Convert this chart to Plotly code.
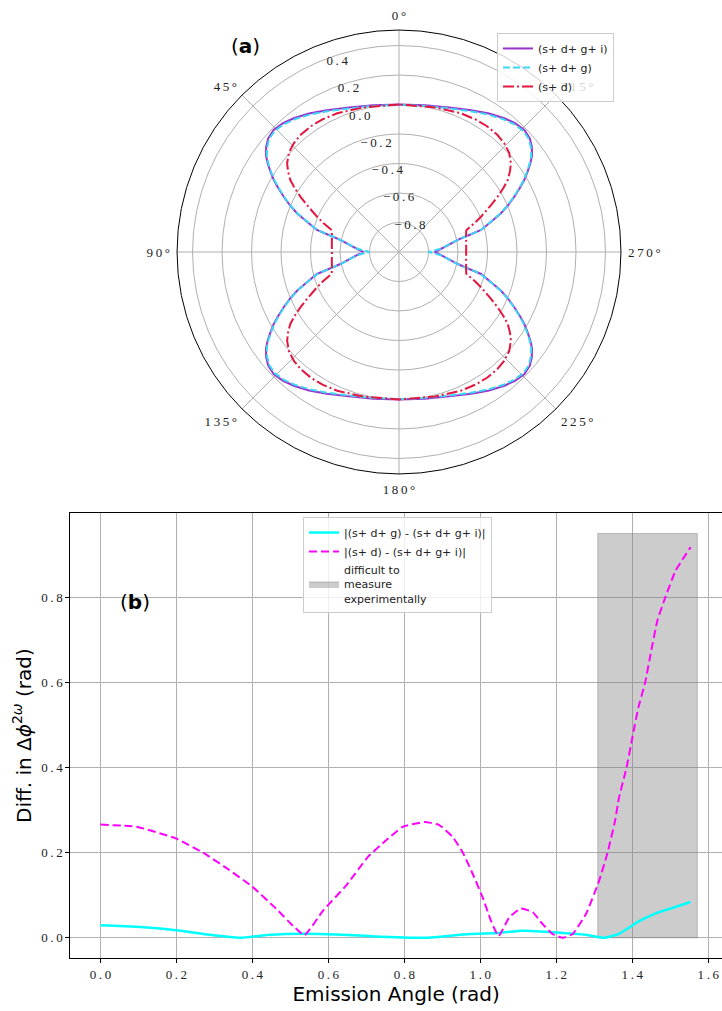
import plotly.graph_objects as go

# ---------------- Panel (a): polar data (first quadrant, mirrored by symmetry) ----------------
theta_q = [0, 10, 20, 27, 33, 38.2, 42, 45.8, 49, 51.6, 54, 56, 58, 60.1, 62, 64.4, 66.8, 69.2, 71.8,
           75, 76.4, 78.4, 82.8, 85.9, 90]
r_sdgi = [0.0, 0.01, 0.04, 0.079, 0.12, 0.154, 0.175, 0.186, 0.175, 0.149, 0.115, 0.074, 0.028, -0.02,
          -0.07, -0.133, -0.195, -0.26, -0.343, -0.424, -0.51, -0.594, -0.677, -0.717, -0.758]
r_sdg = [-0.003, 0.006, 0.034, 0.071, 0.111, 0.145, 0.166, 0.177, 0.167, 0.141, 0.108, 0.068, 0.022,
         -0.026, -0.076, -0.138, -0.2, -0.265, -0.347, -0.428, -0.514, -0.598, -0.68, -0.722, -0.8]
theta_red = [0, 14, 24, 30, 35, 40, 44, 48, 51.6, 54, 56.5, 58.5, 60.7, 63, 66.7, 69, 72, 75, 78, 81, 84, 87, 90]
r_sd = [0.0, 0.01, 0.03, 0.038, 0.041, 0.037, 0.026, 0.005, -0.032, -0.07, -0.116, -0.17, -0.233, -0.3,
        -0.395, -0.45, -0.52, -0.529, -0.535, -0.539, -0.542, -0.544, -0.545]

polar_names = ["(s+ d+ g+ i)", "(s+ d+ g)", "(s+ d)"]
angular_ticks = [0, 45, 90, 135, 180, 225, 270, 315]
radial_ticks = [-0.8, -0.6, -0.4, -0.2, 0.0, 0.2, 0.4]

# ---------------- Panel (b): differences ----------------
x_cyan = [0, 0.095, 0.2, 0.288, 0.367, 0.446, 0.533, 0.621, 0.709, 0.853, 0.971, 1.048, 1.111,
          1.199, 1.278, 1.326, 1.366, 1.418, 1.46, 1.505, 1.553]
y_cyan = [0.0295, 0.026, 0.018, 0.007, 0.0, 0.007, 0.0095, 0.008, 0.004, 0.0, 0.009, 0.0115, 0.0165,
          0.0126, 0.007, 0.0, 0.01, 0.039, 0.057, 0.07, 0.084]
x_mag = [0, 0.095, 0.2, 0.27, 0.33, 0.4, 0.463, 0.507, 0.537, 0.586, 0.647, 0.704, 0.752, 0.796, 0.853,
         0.892, 0.927, 0.954, 0.98, 1.006, 1.028, 1.048, 1.076, 1.107, 1.138, 1.164, 1.19, 1.217, 1.243,
         1.278, 1.3123, 1.3342, 1.3544, 1.3649, 1.3842, 1.4, 1.4158, 1.4333, 1.4482, 1.4658, 1.486,
         1.514, 1.5535]
y_mag = [0.266, 0.261, 0.233, 0.2, 0.165, 0.12, 0.068, 0.028, 0.006, 0.064, 0.123, 0.19, 0.229, 0.261,
         0.272, 0.265, 0.237, 0.2, 0.15, 0.095, 0.04, 0.004, 0.048, 0.069, 0.06, 0.032, 0.009, 0.0,
         0.009, 0.056, 0.1333, 0.198, 0.2745, 0.3294, 0.398, 0.47, 0.541, 0.598, 0.667, 0.745, 0.798,
         0.863, 0.918]
rect_x = [1.309, 1.571]
rect_y = [0.0, 0.95]
diff_names = ["|(s+ d+ g) - (s+ d+ g+ i)|", "|(s+ d) - (s+ d+ g+ i)|", "difficult to<br>measure<br>experimentally"]
x_ticks = [0.0, 0.2, 0.4, 0.6, 0.8, 1.0, 1.2, 1.4, 1.6]
y_ticks = [0.0, 0.2, 0.4, 0.6, 0.8]


def mirror(theta, r):
    """Full 360 curve from first quadrant values using the picture's symmetry."""
    t = list(theta) + [180 - v for v in reversed(theta)] + [180 + v for v in theta] + [360 - v for v in reversed(theta)]
    rr = list(r) + list(reversed(r)) + list(r) + list(reversed(r))
    return t, rr


def spaced(s):
    return "\u2009".join(list(s))


SERIF = "Liberation Serif"
SANS = "DejaVu Sans"

fig = go.Figure()

for (th, rr, name, color, dash) in [
    (theta_q, r_sdgi, polar_names[0], "#9932CC", "solid"),
    (theta_q, r_sdg, polar_names[1], "#3ED6F7", "7px,3px"),
    (theta_red, r_sd, polar_names[2], "#E3173F", "11px,3px,2px,3px"),
]:
    t, r = mirror(th, rr)
    fig.add_trace(go.Scatterpolar(r=r, theta=t, mode="lines", name=name,
                                  line=dict(color=color, width=2, dash=dash),
                                  subplot="polar", legend="legend"))

fig.add_trace(go.Scatter(x=[rect_x[0], rect_x[1], rect_x[1], rect_x[0], rect_x[0]],
                         y=[rect_y[0], rect_y[0], rect_y[1], rect_y[1], rect_y[0]],
                         mode="lines", fill="toself", fillcolor="rgba(128,128,128,0.4)",
                         line=dict(color="rgba(128,128,128,0.45)", width=1),
                         name=diff_names[2], legend="legend2", legendrank=3,
                         xaxis="x", yaxis="y", hoverinfo="skip"))
fig.add_trace(go.Scatter(x=x_cyan, y=y_cyan, mode="lines", name=diff_names[0],
                         line=dict(color="#00FFFF", width=2.5, shape="spline", smoothing=0.5),
                         legend="legend2", legendrank=1, xaxis="x", yaxis="y"))
fig.add_trace(go.Scatter(x=x_mag, y=y_mag, mode="lines", name=diff_names[1],
                         line=dict(color="#FF00FF", width=2, dash="8px,4px", shape="spline", smoothing=0.4),
                         legend="legend2", legendrank=2, xaxis="x", yaxis="y"))

tickfont = dict(family=SERIF, size=13, color="#222222")
legfont = dict(family=SANS, size=11, color="#222222")

fig.update_layout(
    width=722, height=1011,
    margin=dict(l=0, r=0, t=0, b=0),
    paper_bgcolor="white", plot_bgcolor="white",
    showlegend=True,
    polar=dict(
        domain=dict(x=[0.2452, 0.8601], y=[0.5312, 0.9703]),
        bgcolor="white",
        angularaxis=dict(rotation=90, direction="counterclockwise", thetaunit="degrees",
                         tickmode="array", tickvals=angular_ticks,
                         ticktext=[spaced(f"{v}°") for v in angular_ticks],
                         showline=True, linecolor="black", linewidth=1,
                         showgrid=True, gridcolor="#b0b0b0", gridwidth=0.8,
                         ticks="outside", ticklen=4, tickcolor="rgba(0,0,0,0)",
                         tickfont=dict(family=SERIF, size=13, color="#222222")),
        radialaxis=dict(range=[-1, 0.505], tickmode="array", tickvals=radial_ticks,
                        ticktext=[spaced(f"{v:.1f}".replace("-", "\u2212")) for v in radial_ticks],
                        angle=112.5, tickangle=112.5, showline=False, ticks="",
                        showgrid=True, gridcolor="#b0b0b0", gridwidth=0.8, tickfont=tickfont),
    ),
    xaxis=dict(domain=[0.0974, 1.0], range=[-0.0792, 1.636], tickmode="array", tickvals=x_ticks,
               ticktext=[spaced(f"{v:.1f}") for v in x_ticks], showgrid=True, gridcolor="#b0b0b0",
               gridwidth=1, zeroline=False, showline=True, linecolor="black", linewidth=1, mirror=True,
               ticks="outside", ticklen=4, tickcolor="black", tickfont=tickfont,
               title=dict(text="Emission Angle (rad)", font=dict(family=SANS, size=20, color="black"),
                          standoff=6),
               anchor="y"),
    yaxis=dict(domain=[0.0524, 0.4923], range=[-0.0475, 0.9975], tickmode="array", tickvals=y_ticks,
               ticktext=[spaced(f"{v:.1f}") for v in y_ticks], showgrid=True, gridcolor="#b0b0b0",
               gridwidth=1, zeroline=False, showline=True, linecolor="black", linewidth=1, mirror=False,
               ticks="outside", ticklen=4, tickcolor="black", tickfont=tickfont,
               title=dict(text="Diff. in Δ<i>ϕ</i><sup>2<i>ω</i></sup> (rad)",
                          font=dict(family=SANS, size=20, color="black"), standoff=4),
               anchor="x"),
    legend=dict(x=0.6884, y=0.9674, xanchor="left", yanchor="top", bgcolor="rgba(255,255,255,0.8)",
                bordercolor="#cccccc", borderwidth=1, font=legfont, tracegroupgap=0, itemwidth=30),
    legend2=dict(x=0.4197, y=0.4886, xanchor="left", yanchor="top", bgcolor="rgba(255,255,255,0.8)",
                 bordercolor="#cccccc", borderwidth=1, font=legfont, tracegroupgap=0, itemwidth=30),
    annotations=[
        dict(text="(<b>a</b>)", x=0.3407, y=0.9545, xref="paper", yref="paper", showarrow=False,
             xanchor="center", yanchor="middle", font=dict(family=SANS, size=20, color="black")),
        dict(text="(<b>b</b>)", x=0.187, y=0.4045, xref="paper", yref="paper", showarrow=False,
             xanchor="center", yanchor="middle", font=dict(family=SANS, size=20, color="black")),
    ],
)

fig.write_html("out.html", config={"displayModeBar": False},
               post_script="document.body.style.margin='0';")
